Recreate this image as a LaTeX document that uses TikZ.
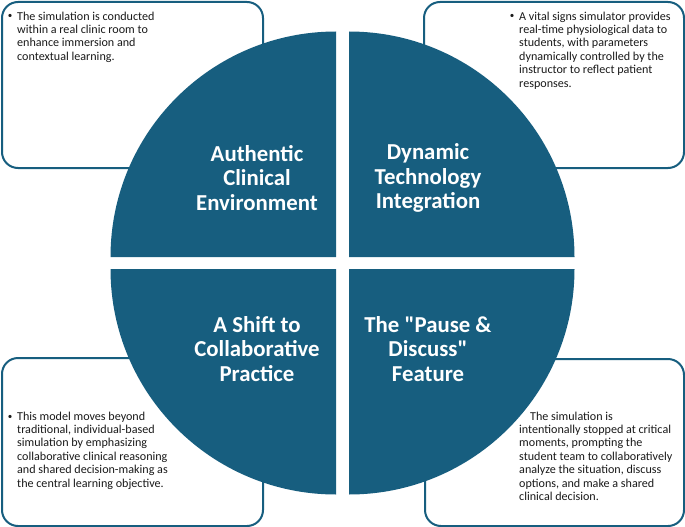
\documentclass[tikz,border=0pt]{standalone}
\usepackage{fontspec}
\setmainfont{Carlito}[Ligatures=TeXOff]
\definecolor{mainblue}{HTML}{175E7F}
\definecolor{bodytext}{HTML}{1A1A1A}
\begin{document}
\begin{tikzpicture}[x=1pt,y=-1pt,
  infobox/.style={draw=mainblue, line width=2pt, fill=white, rounded corners=16pt, anchor=north west, inner sep=0pt},
  quad/.style={fill=mainblue},
  titletext/.style={text=white, font=\fontsize{22.8}{24.5}\selectfont\bfseries, align=center, inner sep=0pt},
  bodytxt/.style={text=bodytext, font=\fontsize{12.1}{13.4}\selectfont, align=left, anchor=north west, inner sep=0pt},
  bulletmark/.style={text=bodytext, font=\fontsize{9}{10}\selectfont, anchor=base, inner sep=0pt}]
\useasboundingbox (0,0) rectangle (685,527);
% boxes
\node[infobox, minimum width=261pt, minimum height=166pt] (boxtl) at (1,1) {};
\node[infobox, minimum width=260pt, minimum height=166pt] (boxtr) at (423,1) {};
\node[infobox, minimum width=261pt, minimum height=168pt] (boxbl) at (1,357) {};
\node[infobox, minimum width=259pt, minimum height=167pt] (boxbr) at (424,358) {};
% quadrants
\fill[quad] (336,257) -- ++(-225.5,0) arc[start angle=180, end angle=270, radius=225.5] -- cycle;
\fill[quad] (349,257) -- ++(0,-225.5) arc[start angle=270, end angle=360, radius=225.5] -- cycle;
\fill[quad] (349,269) -- ++(225.5,0) arc[start angle=0, end angle=90, radius=225.5] -- cycle;
\fill[quad] (336,269) -- ++(0,225.5) arc[start angle=90, end angle=180, radius=225.5] -- cycle;
% titles
\node[titletext] (ttl) at (257,178) {Authentic\\Clinical\\Environment};
\node[titletext] (ttr) at (428,178) {Dynamic\\Technology\\Integration};
\node[titletext] (tbl) at (257,349) {A Shift to\\Collaborative\\Practice};
\node[titletext] (tbr) at (428,349) {The "Pause \&\\Discuss"\\Feature};
% body texts
\node[bulletmark] (btl) at (10,19) {•};
\node[bodytxt] (xtl) at (17,11.5) {The simulation is conducted\\within a real clinic room to\\enhance immersion and\\contextual learning.};
\node[bulletmark] (btr) at (512,19) {•};
\node[bodytxt] (xtr) at (519,11.5) {A vital signs simulator provides\\real-time physiological data to\\students, with parameters\\dynamically controlled by the\\instructor to reflect patient\\responses.};
\node[bulletmark] (bbl) at (10,419) {•};
\node[bodytxt] (xbl) at (17,411.5) {This model moves beyond\\traditional, individual-based\\simulation by emphasizing\\collaborative clinical reasoning\\and shared decision-making as\\the central learning objective.};
\node[bodytxt] (xbr) at (519,411.5) {\hspace*{11pt}The simulation is\\intentionally stopped at critical\\moments, prompting the\\student team to collaboratively\\analyze the situation, discuss\\options, and make a shared\\clinical decision.};
\end{tikzpicture}
\end{document}
